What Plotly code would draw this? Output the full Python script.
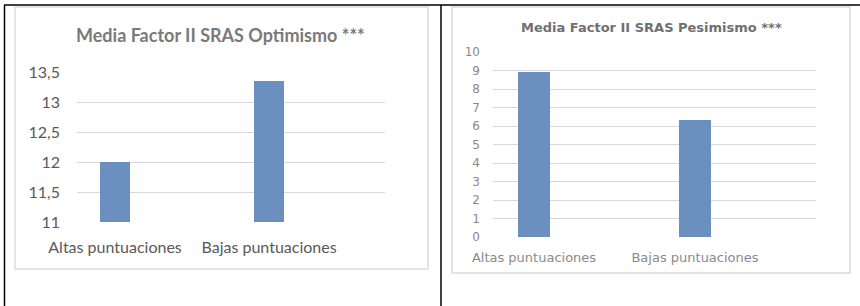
import plotly.graph_objects as go

W, H = 860, 306

categories = ["Altas puntuaciones", "Bajas puntuaciones"]
optimismo = [12.0, 13.35]
pesimismo = [8.9, 6.3]

opt_ticks = [11, 11.5, 12, 12.5, 13, 13.5]
opt_ticktext = ["11", "11,5", "12", "12,5", "13", "13,5"]
pes_ticks = [0, 1, 2, 3, 4, 5, 6, 7, 8, 9, 10]
pes_ticktext = [str(v) for v in pes_ticks]

title_left = "Media Factor II SRAS Optimismo ***"
title_right = "Media Factor II SRAS Pesimismo ***"

BAR = "#6b8fbf"
GRID = "#d9d9d9"


def px(x):
    return x / W


def py(y):
    return 1 - y / H


fig = go.Figure()
fig.add_trace(go.Bar(x=[0, 1], y=optimismo, width=0.195,
                     marker=dict(color=BAR, line=dict(width=0)),
                     xaxis="x", yaxis="y", showlegend=False))
fig.add_trace(go.Bar(x=[0, 1], y=pesimismo, width=0.2,
                     marker=dict(color=BAR, line=dict(width=0)),
                     xaxis="x2", yaxis="y2", showlegend=False))

left_font = "Lato, Calibri, sans-serif"
right_font = "DejaVu Sans, Verdana, sans-serif"

fig.update_layout(
    width=W, height=H,
    margin=dict(l=0, r=0, t=0, b=0, pad=0),
    paper_bgcolor="white", plot_bgcolor="white",
    bargap=0,
    xaxis=dict(domain=[px(77), px(385)], range=[-0.247, 1.753],
               tickvals=[0, 1], ticktext=categories, showgrid=False,
               zeroline=False, showline=False, ticks="", automargin=False,
               tickfont=dict(family=left_font, size=16, color="#595959"),
               ticklabelstandoff=14, fixedrange=True),
    yaxis=dict(domain=[py(222), py(72)], range=[11, 13.5],
               tickvals=opt_ticks, ticktext=opt_ticktext,
               showgrid=True, gridcolor=GRID, gridwidth=1, zeroline=False,
               showline=False, ticks="", automargin=False,
               tickfont=dict(family=left_font, size=16, color="#595959"),
               ticklabelstandoff=16, fixedrange=True),
    xaxis2=dict(domain=[px(493), px(816)], range=[-0.2547, 1.7516],
                tickvals=[0, 1], ticktext=categories, showgrid=False,
                zeroline=False, showline=False, ticks="", automargin=False,
                tickfont=dict(family=right_font, size=13, color="#8a8a8a"),
                ticklabelstandoff=11, anchor="y2", fixedrange=True),
    yaxis2=dict(domain=[py(237), py(52)], range=[0, 10],
                tickvals=pes_ticks, ticktext=pes_ticktext,
                showgrid=True, gridcolor=GRID, gridwidth=1, zeroline=False,
                showline=False, ticks="", anchor="x2", automargin=False,
                tickfont=dict(family=right_font, size=12, color="#8a8a8a"),
                ticklabelstandoff=12, fixedrange=True),
)

shapes = []
# chart frames
shapes.append(dict(type="rect", xref="paper", yref="paper",
                   x0=px(15), x1=px(428), y0=py(269), y1=py(7),
                   line=dict(color="#dcdcdc", width=1.5)))
shapes.append(dict(type="rect", xref="paper", yref="paper",
                   x0=px(452), x1=px(850), y0=py(273), y1=py(7),
                   line=dict(color="#dcdcdc", width=1.5)))
# table borders
for (x0, y0, x1, y1) in [(4, 5, 860, 5), (4.5, 5, 4.5, 306), (441, 5, 441, 306)]:
    shapes.append(dict(type="line", xref="paper", yref="paper",
                       x0=px(x0), x1=px(x1), y0=py(y0), y1=py(y1),
                       line=dict(color="black", width=1.5)))
fig.update_layout(shapes=shapes)

fig.add_annotation(text="<b>" + title_left + "</b>", xref="paper", yref="paper",
                   x=px(221), y=py(35), showarrow=False,
                   xanchor="center", yanchor="middle",
                   font=dict(family=left_font, size=18, color="#7a7a7a"))
fig.add_annotation(text="<b>" + title_right + "</b>", xref="paper", yref="paper",
                   x=px(651), y=py(27), showarrow=False,
                   xanchor="center", yanchor="middle",
                   font=dict(family=right_font, size=13, color="#707070"))

fig.write_html("out.html", config={"displayModeBar": False},
               post_script="document.body.style.margin='0';document.body.style.overflow='hidden';")
